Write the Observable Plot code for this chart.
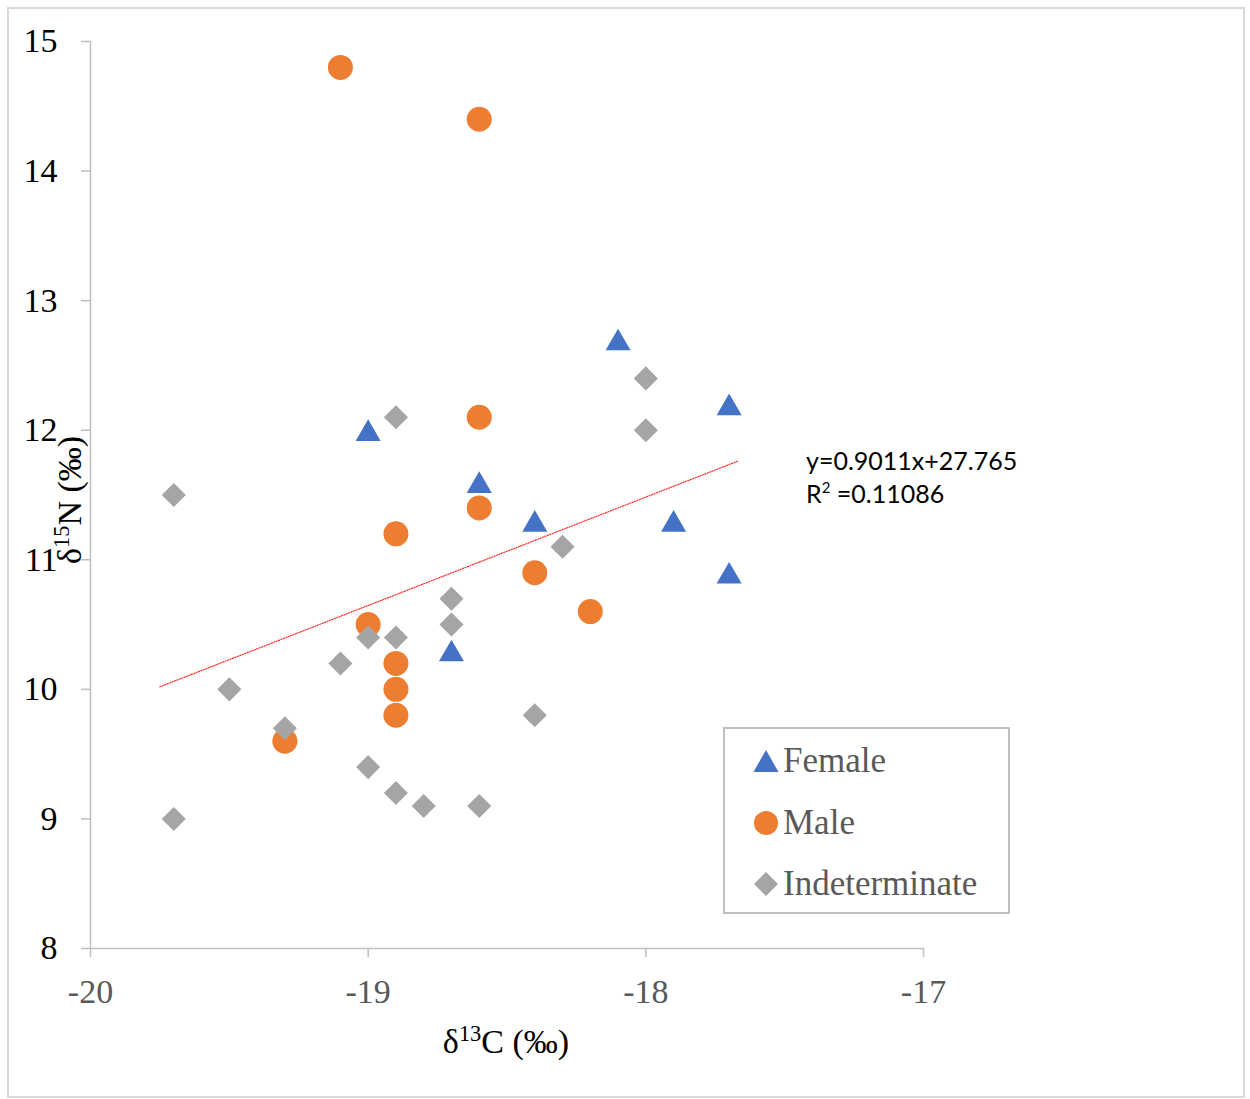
<!DOCTYPE html>
<html>
<head>
<meta charset="utf-8">
<script src="https://cdn.jsdelivr.net/npm/d3@7"></script>
<script src="https://cdn.jsdelivr.net/npm/@observablehq/plot@0.6"></script>
<style>
  html, body { margin: 0; padding: 0; background: #fff; }
  #wrap { position: relative; width: 1250px; height: 1099px; overflow: hidden; }
  #wrap > svg { position: absolute; left: 0; top: 0; }
  #wrap > svg text { font-family: "Liberation Serif", "Times New Roman", serif; }
  .outer { position: absolute; left: 7px; top: 7px; width: 1234px; height: 1087px; border: 2px solid #d9d9d9; pointer-events: none; }
  .serif { font-family: "Liberation Serif", "Times New Roman", serif; }
  .ylab { position: absolute; left: 70px; top: 500px; transform: translate(-50%, -50%) rotate(-90deg); font-size: 34px; color: #000; white-space: nowrap; }
  .xlab { position: absolute; left: 506px; top: 1042px; transform: translate(-50%, -50%); font-size: 34px; color: #000; white-space: nowrap; }
  sup { font-size: 0.66em; vertical-align: 0.55em; line-height: 0; }
  .eq { position: absolute; left: 806px; top: 444px; font-family: Lato, "Open Sans", sans-serif; font-size: 25px; line-height: 33px; color: #000; white-space: nowrap; }
  .eq sup { font-size: 0.6em; vertical-align: 0.7em; }
  .legend { position: absolute; left: 723px; top: 727px; width: 283px; height: 183px; border: 2px solid #bfbfbf; background: #fff; }
  .legend .item { position: absolute; left: 0; height: 40px; display: flex; align-items: center; }
  .legend .item svg { display: block; width: 30px; height: 30px; margin-left: 26px; }
  .legend .item span { margin-left: 2px; font-size: 35px; color: #595959; }
</style>
</head>
<body>
<div id="wrap"></div>
<script>
// ---- data ----
const femaleX = [-19.0, -18.1, -17.7, -18.6, -18.4, -17.9, -17.7, -18.7];
const femaleY = [12.0, 12.7, 12.2, 11.6, 11.3, 11.3, 10.9, 10.3];

const maleX = [-19.1, -18.6, -18.6, -18.6, -18.9, -18.4, -18.2, -19.0, -18.9, -18.9, -18.9, -19.3];
const maleY = [14.8, 14.4, 12.1, 11.4, 11.2, 10.9, 10.6, 10.5, 10.2, 10.0, 9.8, 9.6];

const indetX = [-19.7, -19.7, -19.5, -19.3, -19.1, -19.0, -19.0, -18.9, -18.9, -18.9, -18.8, -18.7, -18.7, -18.6, -18.4, -18.3, -18.0, -18.0];
const indetY = [11.5, 9.0, 10.0, 9.7, 10.2, 10.4, 9.4, 12.1, 10.4, 9.2, 9.1, 10.7, 10.5, 9.1, 9.8, 11.1, 12.4, 12.0];

// trendline endpoints as drawn in the reference
const trendX = [-19.75, -17.67];
const trendY = [10.02, 11.76];

const xTicks = [-20, -19, -18, -17];
const yTicks = [8, 9, 10, 11, 12, 13, 14, 15];

const seriesNames = ["Female", "Male", "Indeterminate"];
const seriesColors = ["#4472c4", "#ed7d31", "#a5a5a5"];
const equationText = "y=0.9011x+27.765";
const r2Text = "=0.11086";

// ---- helpers ----
const zip = (xs, ys) => xs.map((x, i) => ({x, y: ys[i]}));

// triangle centred on its bounding box (as in Excel)
const triangleSym = {
  draw(ctx, size) {
    const s = Math.sqrt(size * 4 / Math.sqrt(3));
    const h = s * Math.sqrt(3) / 2;
    ctx.moveTo(0, -h / 2);
    ctx.lineTo(s / 2, h / 2);
    ctx.lineTo(-s / 2, h / 2);
    ctx.closePath();
  }
};
// square diamond (square rotated 45°)
const diamondSym = {
  draw(ctx, size) {
    const a = Math.sqrt(size / 2);
    ctx.moveTo(0, -a);
    ctx.lineTo(a, 0);
    ctx.lineTo(0, a);
    ctx.lineTo(-a, 0);
    ctx.closePath();
  }
};

const axisColor = "#bfbfbf";
const serif = "'Liberation Serif', 'Times New Roman', serif";

const chart = Plot.plot({
  width: 1250,
  height: 1099,
  marginLeft: 90,
  marginRight: 327,
  marginTop: 41,
  marginBottom: 151,
  style: {fontFamily: serif, background: "transparent", overflow: "visible"},
  x: {domain: [-20, -17], axis: null},
  y: {domain: [8, 15], axis: null},
  marks: [
    Plot.ruleX([-20], {stroke: axisColor, strokeWidth: 1.5}),
    Plot.ruleY([8], {stroke: axisColor, strokeWidth: 1.5}),
    Plot.axisY({ticks: yTicks, tickSize: 9, tickPadding: 24, stroke: axisColor, strokeWidth: 1.5, fill: "#000", fontSize: 34, tickFormat: d => String(d), label: null}),
    Plot.axisX({ticks: xTicks, tickSize: 9, tickPadding: 21, stroke: axisColor, strokeWidth: 1.5, fill: "#595959", fontSize: 34, tickFormat: d => String(d), label: null}),
    Plot.line(zip(trendX, trendY), {x: "x", y: "y", stroke: "#ff3030", strokeWidth: 1.3, strokeDasharray: "1,1.6"}),
    Plot.dot(zip(femaleX, femaleY), {x: "x", y: "y", symbol: triangleSym, r: 9.3, fill: seriesColors[0], stroke: "none"}),
    Plot.dot(zip(maleX, maleY), {x: "x", y: "y", symbol: "circle", r: 12.5, fill: seriesColors[1], stroke: "none"}),
    Plot.dot(zip(indetX, indetY), {x: "x", y: "y", symbol: diamondSym, r: 9.6, fill: seriesColors[2], stroke: "none"})
  ]
});

const wrap = document.getElementById("wrap");
wrap.appendChild(chart);

// outer chart-area border
const outer = document.createElement("div");
outer.className = "outer";
wrap.appendChild(outer);

// axis titles
const ylab = document.createElement("div");
ylab.className = "ylab serif";
ylab.innerHTML = "δ<sup>15</sup>N (‰)";
wrap.appendChild(ylab);

const xlab = document.createElement("div");
xlab.className = "xlab serif";
xlab.innerHTML = "δ<sup>13</sup>C (‰)";
wrap.appendChild(xlab);

// regression equation
const eq = document.createElement("div");
eq.className = "eq";
eq.innerHTML = equationText + "<br>R<sup>2</sup> " + r2Text;
wrap.appendChild(eq);

// legend
const legend = document.createElement("div");
legend.className = "legend";
const markerSvgs = [
  `<svg viewBox="-15 -15 30 30"><path d="M0,-11L12.5,11L-12.5,11Z" fill="${seriesColors[0]}"/></svg>`,
  `<svg viewBox="-15 -15 30 30"><circle r="12" fill="${seriesColors[1]}"/></svg>`,
  `<svg viewBox="-15 -15 30 30"><path d="M0,-12L12,0L0,12L-12,0Z" fill="${seriesColors[2]}"/></svg>`
];
const itemTops = [12, 74, 135];
seriesNames.forEach((name, i) => {
  const it = document.createElement("div");
  it.className = "item";
  it.style.top = itemTops[i] + "px";
  it.innerHTML = markerSvgs[i] + `<span class="serif">${name}</span>`;
  legend.appendChild(it);
});
wrap.appendChild(legend);
</script>
</body>
</html>
